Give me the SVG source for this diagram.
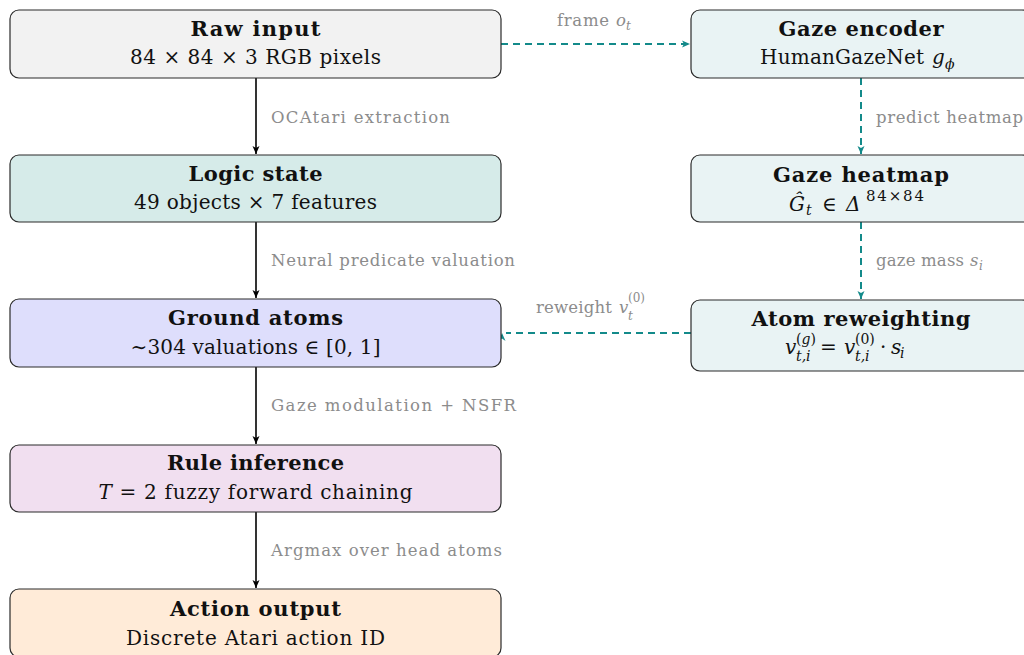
<svg xmlns="http://www.w3.org/2000/svg" width="1024" height="655" viewBox="0 0 1024 655">
<style>
.box{stroke:#2b2b2b;stroke-width:1.2}
.t{font-family:"DejaVu Serif","Liberation Serif",serif;font-size:21px;font-weight:bold;fill:#111;text-anchor:middle}
.s{font-family:"DejaVu Serif","Liberation Serif",serif;font-size:20px;fill:#111;text-anchor:middle}
.m{font-family:"DejaVu Serif","Liberation Serif",serif;font-size:20px;fill:#111}
.l{font-family:"DejaVu Serif","Liberation Serif",serif;font-size:16.5px;fill:#8c8c8c}
.i{font-style:italic}
.sm{font-size:14px}
.xs{font-size:12px}
.solid{stroke:#000;stroke-width:1.6;fill:none}
.dash{stroke:#138a8a;stroke-width:2;fill:none;stroke-dasharray:7,5}
</style>
<defs>
<marker id="ab" markerWidth="10" markerHeight="10" refX="9" refY="5" orient="auto" markerUnits="userSpaceOnUse"><path d="M1,1.5 L9,5 L1,8.5 L3,5 Z" fill="#000"/></marker>
<marker id="at" markerWidth="10" markerHeight="10" refX="9" refY="5" orient="auto" markerUnits="userSpaceOnUse"><path d="M1,1.5 L9,5 L1,8.5 L3,5 Z" fill="#138a8a"/></marker>
</defs>
<g id="connectors">
<path class="solid" d="M256,78 V154" marker-end="url(#ab)"/>
<path class="solid" d="M256,222 V298" marker-end="url(#ab)"/>
<path class="solid" d="M256,367 V444" marker-end="url(#ab)"/>
<path class="solid" d="M256,512 V588" marker-end="url(#ab)"/>
<path class="dash" d="M501,44 H690" marker-end="url(#at)"/>
<path class="dash" d="M861,78 V154" marker-end="url(#at)"/>
<path class="dash" d="M861,222 V299" marker-end="url(#at)"/>
<path class="dash" d="M691,333 H506"/>
<path d="M502,333 L505.5,341 L502,338.5 L498.5,341 Z" fill="#138a8a"/>
<text class="l" x="557" y="26" textLength="52">frame</text>
<text class="l i" x="616" y="26">o</text>
<text class="l i xs" x="626" y="30">t</text>
<text class="l" x="271" y="123" textLength="179">OCAtari extraction</text>
<text class="l" x="271" y="266" textLength="244">Neural predicate valuation</text>
<text class="l" x="271" y="411" textLength="245">Gaze modulation + NSFR</text>
<text class="l" x="271" y="556" textLength="231">Argmax over head atoms</text>
<text class="l" x="876" y="123" textLength="147">predict heatmap</text>
<text class="l" x="876" y="266" textLength="88">gaze mass</text>
<text class="l i" x="970" y="266">s</text>
<text class="l i xs" x="979" y="270">i</text>
<text class="l" x="536" y="313" textLength="76">reweight</text>
<text class="l i" x="619" y="313">v</text>
<text class="l i xs" x="628" y="320">t</text>
<text class="l xs" x="628" y="302">(0)</text>
</g>
<g id="raw-input">
<rect class="box" x="10" y="10" width="491" height="68" rx="9" fill="#f2f2f2"/>
<text class="t" x="255.5" y="36" textLength="130">Raw input</text>
<text class="s" x="255.5" y="64" textLength="251">84 × 84 × 3 RGB pixels</text>
</g>
<g id="logic-state">
<rect class="box" x="10" y="155" width="491" height="67" rx="9" fill="#d6ebe9"/>
<text class="t" x="255.5" y="181" textLength="134">Logic state</text>
<text class="s" x="255.5" y="209" textLength="243">49 objects × 7 features</text>
</g>
<g id="ground-atoms">
<rect class="box" x="10" y="299" width="491" height="68" rx="9" fill="#dedefc"/>
<text class="t" x="255.5" y="325" textLength="175">Ground atoms</text>
<text class="s" x="255.5" y="354" textLength="250">∼304 valuations ∈ [0, 1]</text>
</g>
<g id="rule-inference">
<rect class="box" x="10" y="445" width="491" height="67" rx="9" fill="#f1dff0"/>
<text class="t" x="255.5" y="470" textLength="177">Rule inference</text>
<text class="s" x="255.5" y="499" textLength="314"><tspan class="i">T</tspan> = 2 fuzzy forward chaining</text>
</g>
<g id="action-output">
<rect class="box" x="10" y="589" width="491" height="68" rx="9" fill="#ffebd8"/>
<text class="t" x="255.5" y="616" textLength="171">Action output</text>
<text class="s" x="255.5" y="645" textLength="259">Discrete Atari action ID</text>
</g>
<g id="gaze-encoder">
<rect class="box" x="691" y="10" width="340" height="68" rx="9" fill="#e9f3f4"/>
<text class="t" x="861" y="36" textLength="165">Gaze encoder</text>
<text class="m" x="760" y="64" textLength="164">HumanGazeNet</text>
<text class="m i" x="932" y="64">g</text>
<text class="m i sm" x="945" y="69">ϕ</text>
</g>
<g id="gaze-heatmap">
<rect class="box" x="691" y="155" width="340" height="67" rx="9" fill="#e9f3f4"/>
<text class="t" x="861" y="182" textLength="176">Gaze heatmap</text>
<text class="m i" x="789" y="211">Ĝ</text>
<text class="m i sm" x="806" y="215">t</text>
<text class="m" x="822" y="211">∈</text>
<text class="m i" x="846" y="211">Δ</text>
<text class="m" x="866" y="201" style="font-size:15px" textLength="58">84×84</text>
</g>
<g id="atom-reweighting">
<rect class="box" x="691" y="300" width="340" height="71" rx="9" fill="#e9f3f4"/>
<text class="t" x="861" y="326" textLength="219">Atom reweighting</text>
<text class="m i" x="785" y="354">v</text>
<text class="m i sm" x="796" y="361">t,i</text>
<text class="m sm" x="796" y="344">(<tspan class="i">g</tspan>)</text>
<text class="m" x="820" y="354">=</text>
<text class="m i" x="844" y="354">v</text>
<text class="m i sm" x="855" y="361">t,i</text>
<text class="m sm" x="855" y="344">(0)</text>
<text class="m" x="880" y="354">·</text>
<text class="m i" x="891" y="354">s</text>
<text class="m i sm" x="900" y="358">i</text>
</g>
</svg>
